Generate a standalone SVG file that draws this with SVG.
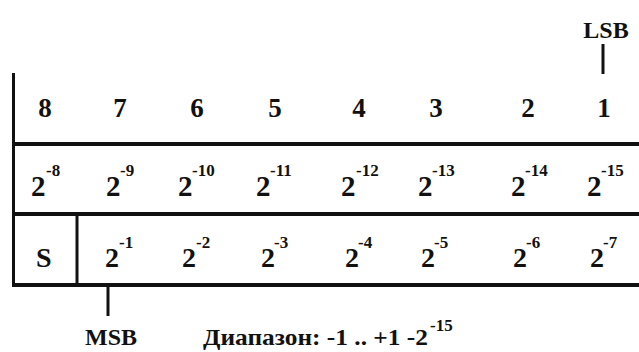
<svg xmlns="http://www.w3.org/2000/svg" width="639" height="352" viewBox="0 0 639 352" font-family="'Liberation Serif', 'Times New Roman', serif">
<style>
  text { font-family: "Liberation Serif", "Times New Roman", serif; font-weight: bold; fill: #111; }
  .d { font-size: 27px; text-anchor: middle; }
  .b { font-size: 29px; }
  .b3 { font-size: 28px; }
  .s { font-size: 17px; }
  .lbl { font-size: 24px; }
  .hl { stroke: #111; stroke-width: 4; fill: none; }
  .vl { stroke: #111; stroke-width: 3; fill: none; }
</style>
<rect width="639" height="352" fill="#fff"/>
<g id="table">
  <line class="vl" x1="13.5" y1="73" x2="13.5" y2="287"/>
  <line class="hl" x1="12" y1="144" x2="639" y2="144"/>
  <line class="hl" x1="12" y1="214" x2="639" y2="214"/>
  <line class="hl" x1="12" y1="285" x2="639" y2="285"/>
  <line class="vl" x1="77" y1="214" x2="77" y2="285"/>
</g>
<g id="row-bit-numbers">
  <text class="d" x="45" y="117">8</text>
  <text class="d" x="120" y="117">7</text>
  <text class="d" x="197" y="117">6</text>
  <text class="d" x="275" y="117">5</text>
  <text class="d" x="359" y="117">4</text>
  <text class="d" x="436" y="117">3</text>
  <text class="d" x="528" y="117">2</text>
  <text class="d" x="604" y="117">1</text>
</g>
<g id="row-integer-weights">
  <text class="b" x="31" y="196">2</text><text class="s" x="46" y="176">-8</text>
  <text class="b" x="106" y="196">2</text><text class="s" x="120" y="176">-9</text>
  <text class="b" x="178" y="196">2</text><text class="s" x="192" y="176">-10</text>
  <text class="b" x="256" y="196">2</text><text class="s" x="270" y="176">-11</text>
  <text class="b" x="341" y="196">2</text><text class="s" x="356" y="176">-12</text>
  <text class="b" x="418" y="196">2</text><text class="s" x="432" y="176">-13</text>
  <text class="b" x="511" y="196">2</text><text class="s" x="525" y="176">-14</text>
  <text class="b" x="587" y="196">2</text><text class="s" x="601" y="176">-15</text>
</g>
<g id="row-fraction-weights">
  <text class="b3" x="36" y="267">S</text>
  <text class="b3" x="105" y="267">2</text><text class="s" x="119" y="248">-1</text>
  <text class="b3" x="182" y="267">2</text><text class="s" x="196" y="248">-2</text>
  <text class="b3" x="261" y="267">2</text><text class="s" x="274" y="248">-3</text>
  <text class="b3" x="345" y="267">2</text><text class="s" x="358" y="248">-4</text>
  <text class="b3" x="421" y="267">2</text><text class="s" x="434" y="248">-5</text>
  <text class="b3" x="513" y="267">2</text><text class="s" x="526" y="248">-6</text>
  <text class="b3" x="590" y="267">2</text><text class="s" x="603" y="248">-7</text>
</g>
<g id="connectors">
  <line class="vl" x1="603" y1="44" x2="603" y2="74"/>
  <line class="vl" x1="108" y1="286" x2="108" y2="316"/>
</g>
<g id="label-lsb">
  <text class="lbl" x="606" y="38" text-anchor="middle">LSB</text>
</g>
<g id="label-msb">
  <text class="lbl" x="111" y="345" text-anchor="middle">MSB</text>
</g>
<g id="label-range">
  <text class="lbl" x="203" y="345" textLength="225" lengthAdjust="spacingAndGlyphs">Диапазон: -1 .. +1 -2</text>
  <text class="s" x="430" y="331">-15</text>
</g>
</svg>
